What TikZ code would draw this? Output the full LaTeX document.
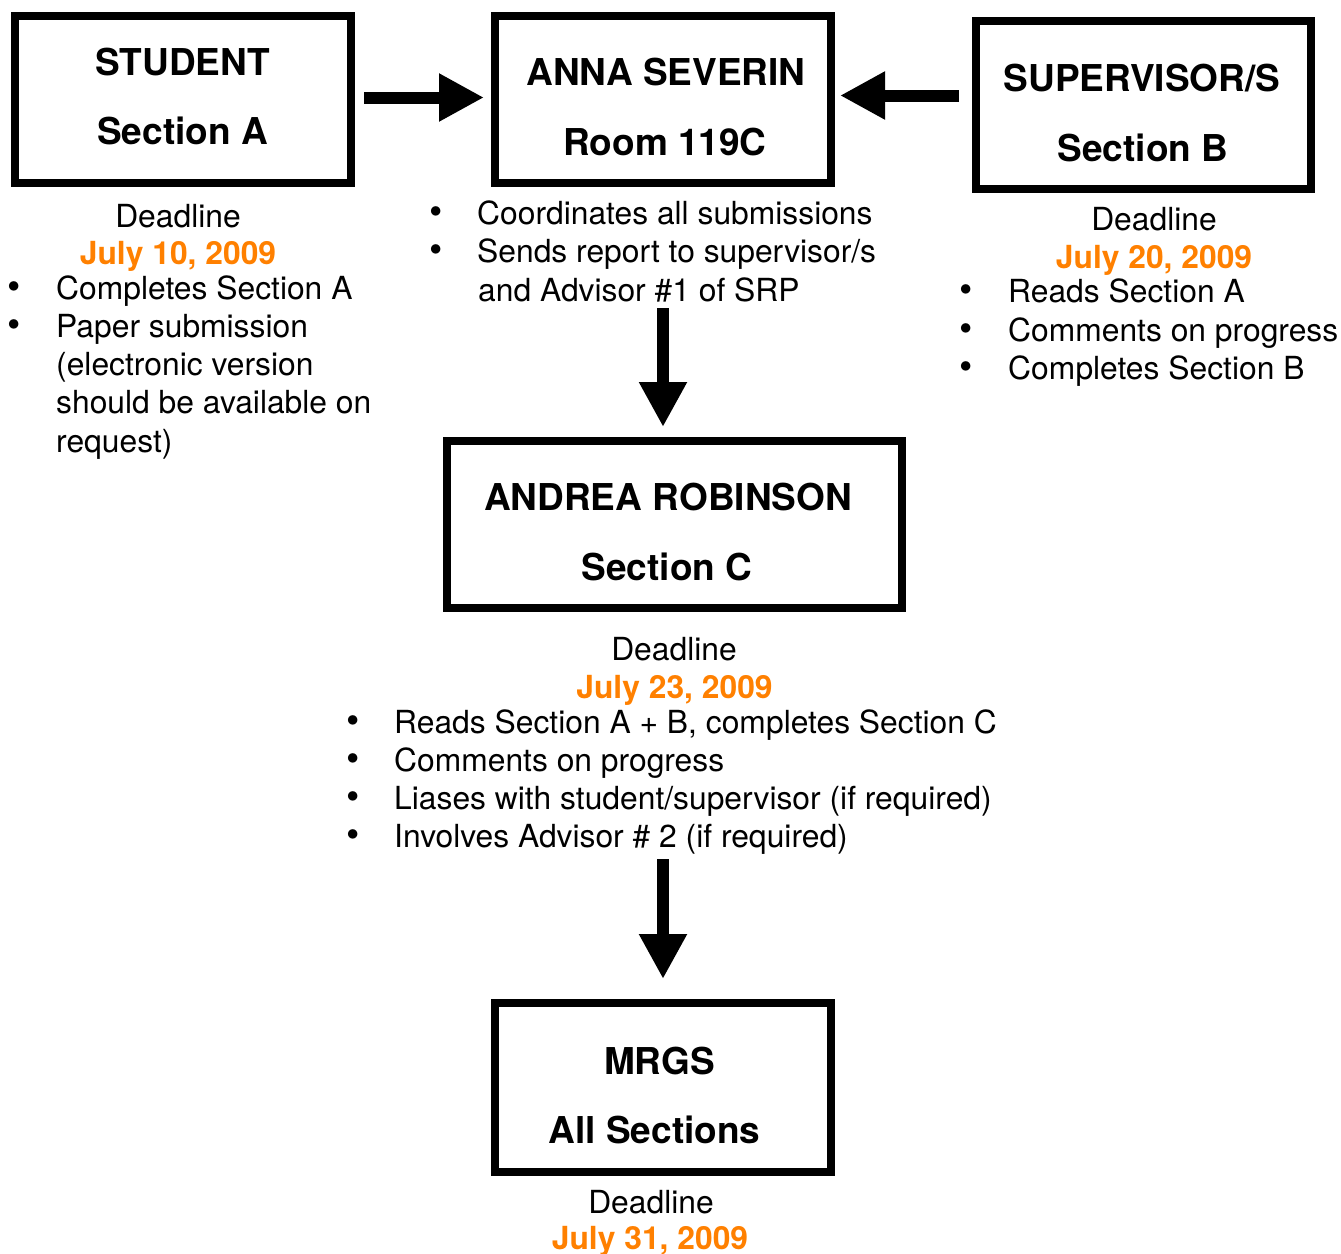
\documentclass[tikz,border=0pt]{standalone}
\usepackage{fontspec}
\setmainfont{TeX Gyre Heros}
\usetikzlibrary{arrows.meta}
\definecolor{dateorange}{RGB}{255,128,0}
\newcommand\bodyfnt{\fontsize{31.8}{38}\selectfont}
\newcommand\bulfnt{\fontsize{38}{38}\selectfont}
\newcommand\titlefnt{\fontsize{37}{44}\selectfont\bfseries}
\begin{document}
\begin{tikzpicture}[x=1pt,y=-1pt,
  box/.style={draw, line width=8pt, inner sep=0pt, outer sep=4pt, minimum height=167pt},
  ttl/.style={font=\titlefnt, anchor=base, inner sep=0pt},
  txtline/.style={font=\bodyfnt, anchor=base west, inner sep=0pt},
  cline/.style={font=\bodyfnt, anchor=base, inner sep=0pt},
  date/.style={font=\bodyfnt\bfseries, text=dateorange, anchor=base, inner sep=0pt},
  bul/.style={font=\bulfnt, anchor=base, inner sep=0pt},
  bigarrow/.style={line width=12pt, -{Triangle[length=45pt,width=45pt]}}]
\useasboundingbox (0,0) rectangle (1341,1253);

% ---------- STUDENT ----------
\node[box, minimum width=336pt] (student) at (183,99) {};
\node[ttl] (studentT1) at (182.5,75) {STUDENT};
\node[ttl] (studentT2) at (182.5,144) {Section A};
\node[cline] (studentDL) at (178,227) {Deadline};
\node[date] (studentDate) at (178,264) {July 10, 2009};
\node[bul] (studentB1) at (14,299) {\textbullet};
\node[bul] (studentB2) at (14,337) {\textbullet};
\node[txtline] (studentL1) at (56,299) {Completes Section A};
\node[txtline] (studentL2) at (56,337) {Paper submission};
\node[txtline] (studentL3) at (56,375) {(electronic version};
\node[txtline] (studentL4) at (56,413) {should be available on};
\node[txtline] (studentL5) at (56,452) {request)};

% ---------- ANNA SEVERIN ----------
\node[box, minimum width=336pt] (anna) at (663,99.5) {};
\node[ttl] (annaT1) at (666,85) {ANNA SEVERIN};
\node[ttl] (annaT2) at (665,155) {Room 119C};
\node[bul] (annaB1) at (436,224) {\textbullet};
\node[bul] (annaB2) at (436,262) {\textbullet};
\node[txtline] (annaL1) at (477,224) {Coordinates all submissions};
\node[txtline] (annaL2) at (477,262) {Sends report to supervisor/s};
\node[txtline] (annaL3) at (478,301) {and Advisor \#1 of SRP};

% ---------- SUPERVISOR/S ----------
\node[box, minimum width=335pt, minimum height=168pt] (sup) at (1143.5,105) {};
\node[ttl] (supT1) at (1142,91) {SUPERVISOR/S};
\node[ttl] (supT2) at (1143,161) {Section B};
\node[cline] (supDL) at (1154,230) {Deadline};
\node[date] (supDate) at (1154,268) {July 20, 2009};
\node[bul] (supB1) at (966,302) {\textbullet};
\node[bul] (supB2) at (966,341) {\textbullet};
\node[bul] (supB3) at (966,379) {\textbullet};
\node[txtline] (supL1) at (1008,302) {Reads Section A};
\node[txtline] (supL2) at (1008,341) {Comments on progress};
\node[txtline] (supL3) at (1008,379) {Completes Section B};

% ---------- ANDREA ROBINSON ----------
\node[box, minimum width=455pt] (andrea) at (674.5,524.5) {};
\node[ttl] (andreaT1) at (668,510) {ANDREA ROBINSON};
\node[ttl] (andreaT2) at (667,580) {Section C};
\node[cline] (andreaDL) at (674,660) {Deadline};
\node[date] (andreaDate) at (674.5,698) {July 23, 2009};
\node[bul] (andreaB1) at (353,733) {\textbullet};
\node[bul] (andreaB2) at (353,771) {\textbullet};
\node[bul] (andreaB3) at (353,809) {\textbullet};
\node[bul] (andreaB4) at (353,847) {\textbullet};
\node[txtline] (andreaL1) at (394,733) {Reads Section A + B, completes Section C};
\node[txtline] (andreaL2) at (394,771) {Comments on progress};
\node[txtline] (andreaL3) at (394,809) {Liases with student/supervisor (if required)};
\node[txtline] (andreaL4) at (394,847) {Involves Advisor \# 2 (if required)};

% ---------- MRGS ----------
\node[box, minimum width=336pt, minimum height=169pt] (mrgs) at (663,1087.5) {};
\node[ttl] (mrgsT1) at (659.5,1074) {MRGS};
\node[ttl] (mrgsT2) at (654.5,1143) {All Sections};
\node[cline] (mrgsDL) at (651,1213) {Deadline};
\node[date] (mrgsDate) at (650,1249) {July 31, 2009};

% ---------- arrows ----------
\draw[bigarrow, shorten <=9pt, shorten >=7pt]
  ([yshift=1.5pt]student.east) -- ([yshift=1.5pt]student.east -| anna.west);
\draw[bigarrow, shorten <=13pt, shorten >=5pt]
  ([yshift=9.5pt]sup.west) -- ([yshift=9.5pt]sup.west -| anna.east);
\coordinate (a3s) at (663,308);
\draw[bigarrow, shorten >=10pt] (a3s) -- (a3s |- andrea.north);
\coordinate (a4s) at (663,859);
\draw[bigarrow, shorten >=20pt] (a4s) -- (a4s |- mrgs.north);
\end{tikzpicture}
\end{document}
